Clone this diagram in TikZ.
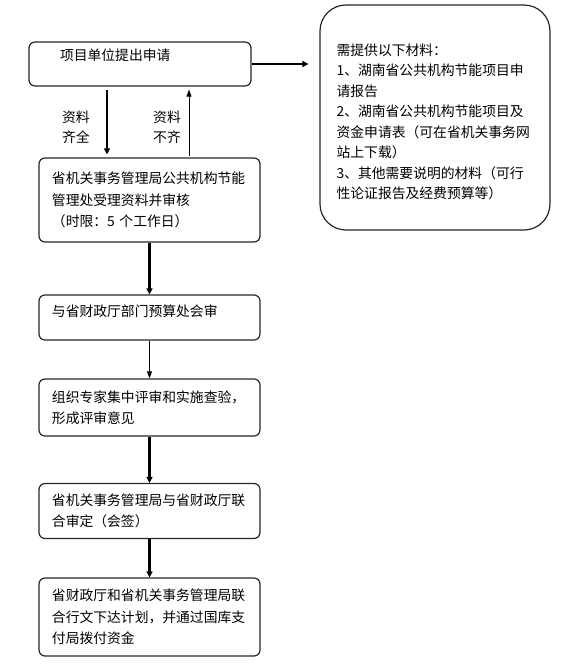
\documentclass[tikz,border=0pt]{standalone}
\usepackage{fontspec}
\newfontfamily\cjk{Noto Sans CJK SC}
\usetikzlibrary{arrows.meta}

\begin{document}
\begin{tikzpicture}[x=1pt,y=-1pt]
\tikzset{
  stepbox/.style={draw=black!85, line width=1.2pt, rounded corners=6pt,
    text width=195pt, inner xsep=13pt, inner ysep=0pt, align=left,
    font=\cjk\fontsize{13.8}{21.5}\selectfont},
  infobox/.style={draw=black!85, line width=1.2pt, rounded corners=26pt,
    minimum width=230pt, minimum height=225pt},
  infotext/.style={text width=200pt, inner sep=0pt, align=left,
    font=\cjk\fontsize{13.8}{20.5}\selectfont},
  cond/.style={align=left, inner sep=0pt, font=\cjk\fontsize{13.8}{20}\selectfont},
  thin/.style={line width=0.9pt, -{Triangle[length=7pt,width=5pt]}},
  thick/.style={line width=2.2pt, -{Triangle[length=6pt,width=6pt]}}
}
\useasboundingbox (0,0) rectangle (572,665);

\node [stepbox, text width=160pt, inner xsep=31pt, minimum height=44pt, text depth=18pt] (apply) at (140,64) {项目单位提出申请};
\node [stepbox, minimum height=84pt] (accept) at (149.5,200) {省机关事务管理局公共机构节能\\管理处受理资料并审核\\（时限：5 个工作日）};
\node [stepbox, minimum height=45pt, text depth=14pt] (budget) at (149.5,317.5) {与省财政厅部门预算处会审};
\node [stepbox, minimum height=57pt] (review) at (149.5,407.5) {组织专家集中评审和实施查验，\\形成评审意见};
\node [stepbox, minimum height=55pt] (joint) at (149.5,511) {省机关事务管理局与省财政厅联\\合审定（会签）};
\node [stepbox, minimum height=78pt] (fund) at (149.5,617) {省财政厅和省机关事务管理局联\\合行文下达计划，并通过国库支\\付局拨付资金};

\node [infobox] (docs) at (435,117.5) {};
\node [infotext, anchor=north west] (doclist) at ([shift={(17,39)}]docs.north west) {需提供以下材料：\\1、湖南省公共机构节能项目申\\请报告\\2、湖南省公共机构节能项目及\\资金申请表（可在省机关事务网\\站上下载）\\3、其他需要说明的材料（可行\\性论证报告及经费预算等）};

\coordinate (xok) at (107,0);
\coordinate (xno) at (189,0);
\node [cond] (ok) at (76,127) {资料\\齐全};
\node [cond] (no) at (167,127) {资料\\不齐};

\draw [thick, line width=1.5pt, shorten <=3pt, shorten >=3pt] (apply.south -| xok) -- (accept.north -| xok);
\draw [thin, shorten <=1pt, shorten >=3pt] (accept.north -| xno) -- (apply.south -| xno);
\draw [thick, line width=1.8pt, shorten >=11pt] (apply.east) -- (docs.west |- apply.east);
\draw [thick] (accept.south -| budget.north) -- (budget.north);
\draw [thin] (budget.south) -- (review.north);
\draw [thick] (review.south) -- (joint.north);
\draw [thick] (joint.south) -- (fund.north);
\end{tikzpicture}
\end{document}
